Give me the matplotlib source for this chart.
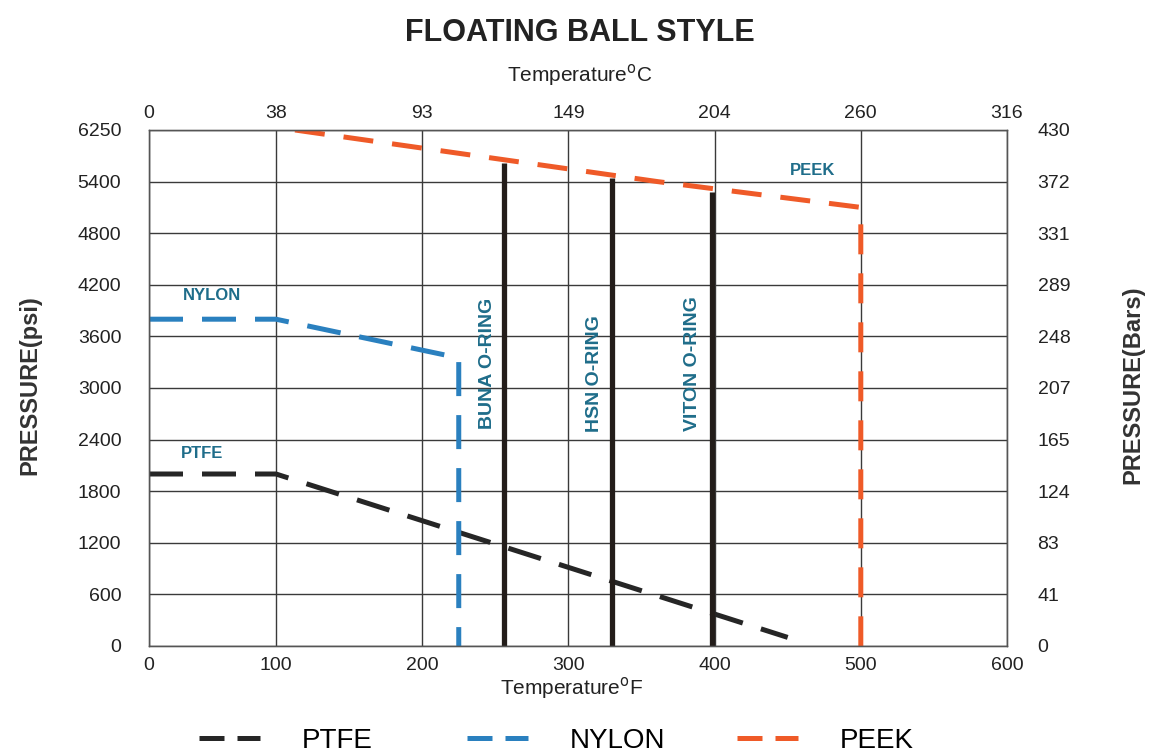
import numpy as np
import matplotlib
matplotlib.use("Agg")
import matplotlib.pyplot as plt
from matplotlib import font_manager
from matplotlib.lines import Line2D

# ---------------- data ----------------
x_ticks_f = [0, 100, 200, 300, 400, 500, 600]
x_ticks_c = ["0", "38", "93", "149", "204", "260", "316"]
y_ticks_psi = [0, 600, 1200, 1800, 2400, 3000, 3600, 4200, 4800, 5400, 6250]
y_ticks_bar = ["0", "41", "83", "124", "165", "207", "248", "289", "331", "372", "430"]

ptfe_t = [0, 100, 450]
ptfe_p = [2000, 2000, 100]

nylon_t = [0, 100, 225, 225]
nylon_p = [3800, 3800, 3350, 0]

peek_t = [113, 361, 500, 500]
peek_p = [6250, 5400, 5100, 0]

oring_names = ["BUNA O-RING", "HSN O-RING", "VITON O-RING"]
oring_t = [256, 330, 398]
oring_top = [5700, 5460, 5280]

# ---------------- fonts ----------------
names = {f.name for f in font_manager.fontManager.ttflist}
base = "Liberation Sans" if "Liberation Sans" in names else "DejaVu Sans"
narrow = "Liberation Sans Narrow" if "Liberation Sans Narrow" in names else base
plt.rcParams["font.family"] = [base, "DejaVu Sans"]

# ---------------- scales (category-like spacing of original) ----------------
xb = np.array([0, 100, 600], dtype=float)
xu = np.array([0, 127, 858], dtype=float)
yb = np.array([0, 5400, 6250], dtype=float)
yu = np.array([0, 9, 10], dtype=float)

def xf(v):
    return np.interp(v, xb, xu)

def xi(v):
    return np.interp(v, xu, xb)

def yf(v):
    return np.interp(v, yb, yu)

def yi(v):
    return np.interp(v, yu, yb)

C_PTFE = "#262626"
C_NYLON = "#2a80bf"
C_PEEK = "#ef5a28"
C_TEXT = "#1f6d8a"
C_GRID = "#3a3a3a"

fig = plt.figure(figsize=(11.51, 7.55), dpi=100)
ax = fig.add_axes([149 / 1151, 1 - 646 / 755, (1007 - 149) / 1151, (646 - 130) / 755])
ax.set_xscale("function", functions=(xf, xi))
ax.set_yscale("function", functions=(yf, yi))
ax.set_xlim(0, 600)
ax.set_ylim(0, 6250)

ax.set_xticks(x_ticks_f)
ax.set_xticklabels([str(v) for v in x_ticks_f])
ax.set_yticks(y_ticks_psi)
ax.set_yticklabels([str(v) for v in y_ticks_psi])
ax.tick_params(axis="both", length=0, labelsize=14, colors="#222222")
ax.tick_params(axis="x", pad=8)
ax.tick_params(axis="y", pad=20)
ax.minorticks_off()
ax.grid(True, color=C_GRID, lw=1.0)
ax.set_axisbelow(True)
for s in ax.spines.values():
    s.set_color("#555555")
    s.set_linewidth(1.0)

lw = 3.6
ax.plot(ptfe_t, ptfe_p, color=C_PTFE, lw=lw, dashes=(6.8, 3.8), label="PTFE")
ax.plot(nylon_t, nylon_p, color=C_NYLON, lw=lw, dashes=(6.8, 3.8), label="NYLON")
ax.plot(peek_t, peek_p, color=C_PEEK, lw=lw, dashes=(6.0, 3.8), label="PEEK")
for t, top in zip(oring_t, oring_top):
    ax.plot([t, t], [0, top], color="#231d1a", lw=3.8, solid_capstyle="butt")

# annotations
ax.text(50, 4080, "NYLON", color=C_TEXT, fontsize=12, fontweight="bold",
        ha="center", va="center", family=[narrow, "DejaVu Sans"])
ax.text(42, 2244, "PTFE", color=C_TEXT, fontsize=12, fontweight="bold",
        ha="center", va="center", family=[narrow, "DejaVu Sans"])
ax.text(467, 5591, "PEEK", color=C_TEXT, fontsize=12, fontweight="bold",
        ha="center", va="center", family=[narrow, "DejaVu Sans"])
lab_pos = [(245, 3291), (318, 3163), (385, 3279)]
for name, (tx, ty) in zip(oring_names, lab_pos):
    ax.text(tx, ty, name, color=C_TEXT, fontsize=14, fontweight="bold", rotation=90,
            ha="center", va="center", family=[narrow, "DejaVu Sans"])

# top axis (Celsius)
axt = ax.twiny()
axt.set_xscale("function", functions=(xf, xi))
axt.set_xlim(0, 600)
axt.set_xticks(x_ticks_f)
axt.set_xticklabels(x_ticks_c)
axt.tick_params(axis="x", length=0, labelsize=14, colors="#222222", pad=6)
axt.minorticks_off()

# right axis (bars)
axr = ax.twinx()
axr.set_yscale("function", functions=(yf, yi))
axr.set_ylim(0, 6250)
axr.set_yticks(y_ticks_psi)
axr.set_yticklabels(y_ticks_bar)
axr.tick_params(axis="y", length=0, labelsize=14, colors="#222222", pad=22)
axr.minorticks_off()
for a in (axt, axr):
    for s in a.spines.values():
        s.set_color("#555555")

# titles / labels
fig.text(580 / 1151, 1 - 33 / 755, "FLOATING BALL STYLE", fontsize=22, fontweight="bold",
         ha="center", va="center", color="#222222")
fig.text(580 / 1151, 1 - 75 / 755, "Temperature$^{\\mathrm{o}}$C", fontsize=15,
         ha="center", va="center", color="#222222", family=[narrow, "DejaVu Sans"])
fig.text(572 / 1151, 1 - 688 / 755, "Temperature$^{\\mathrm{o}}$F", fontsize=15,
         ha="center", va="center", color="#222222", family=[narrow, "DejaVu Sans"])
fig.text(30 / 1151, 1 - 385 / 755, "PRESSURE(psi)", fontsize=17, fontweight="bold",
         rotation=90, ha="center", va="center", color="#333333")
fig.text(1133 / 1151, 1 - 385 / 755, "PRESSURE(Bars)", fontsize=17, fontweight="bold",
         rotation=90, ha="center", va="center", color="#333333")

# legend (three separately placed entries)
entries = [("PTFE", C_PTFE, 200), ("NYLON", C_NYLON, 468), ("PEEK", C_PEEK, 738)]
for lab, col, xpx in entries:
    h = Line2D([0], [0], color=col, lw=lw, dashes=(5.0, 2.6))
    fig.legend([h], [lab], loc="center left", bbox_to_anchor=(xpx / 1151 - 0.023, 1 - 741 / 755),
               frameon=False, handlelength=2.2, handletextpad=1.5,
               prop={"family": [narrow, "DejaVu Sans"], "size": 20})

fig.savefig("out.png", dpi=100, facecolor="white")
